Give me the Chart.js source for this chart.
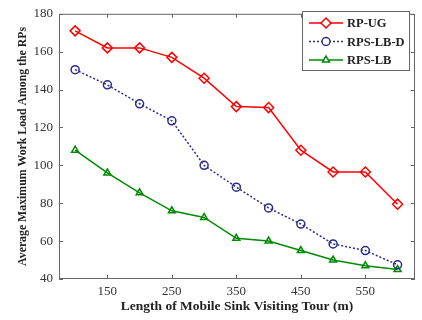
<!DOCTYPE html>
<html>
<head>
<meta charset="UTF-8">
<script src="https://cdn.jsdelivr.net/npm/chart.js"></script>
<style>
  html, body { margin: 0; padding: 0; background: #fff; }
  #wrap { width: 422px; height: 320px; }
</style>
</head>
<body>
<div id="wrap"><canvas id="chart" width="422" height="320"></canvas></div>
<script>
// data
const tourLength = [100, 150, 200, 250, 300, 350, 400, 450, 500, 550, 600];
const rpUG = [171, 162, 162, 157, 146, 131, 130.5, 108, 96.5, 96.5, 79.5];
const rpsLBD = [150.5, 142.5, 132.5, 123.5, 100, 88.5, 77.5, 69, 58.5, 55, 47.5];
const rpsLB = [108, 96, 85.5, 76, 72.5, 61.5, 60, 55, 50, 47, 45];
const xTicks = [150, 250, 350, 450, 550];
const yTicks = [40, 60, 80, 100, 120, 140, 160, 180];

const FONT = '"Liberation Serif", "DejaVu Serif", serif';

function pts(vals) {
  return tourLength.map((x, i) => ({ x: x, y: vals[i] }));
}

const series = [
  { label: 'RP-UG', data: pts(rpUG), color: '#ff0000', style: 'rectRot', dash: [] },
  { label: 'RPS-LB-D', data: pts(rpsLBD), color: '#2b2b8f', style: 'circle', dash: [2, 2] },
  { label: 'RPS-LB', data: pts(rpsLB), color: '#008a00', style: 'triangle', dash: [] }
];

// box + inward ticks, like matlab
const frame = {
  id: 'frame',
  afterDraw(chart) {
    const ctx = chart.ctx;
    const a = chart.chartArea;
    const xs = chart.scales.x, ys = chart.scales.y;
    ctx.save();
    ctx.strokeStyle = '#666';
    ctx.lineWidth = 1;
    ctx.strokeRect(a.left + 0.5, a.top + 0.5, a.right - a.left - 1, a.bottom - a.top - 1);
    ctx.beginPath();
    xTicks.forEach(v => {
      const px = Math.round(xs.getPixelForValue(v)) + 0.5;
      ctx.moveTo(px, a.bottom); ctx.lineTo(px, a.bottom - 4);
      ctx.moveTo(px, a.top); ctx.lineTo(px, a.top + 4);
    });
    yTicks.forEach(v => {
      const py = Math.round(ys.getPixelForValue(v)) + 0.5;
      ctx.moveTo(a.left, py); ctx.lineTo(a.left + 4, py);
      ctx.moveTo(a.right, py); ctx.lineTo(a.right - 4, py);
    });
    ctx.stroke();

    // legend box
    const lx = 302, ly = 11, lw = 107, lh = 59;
    ctx.fillStyle = '#fff';
    ctx.fillRect(lx, ly, lw, lh);
    ctx.strokeRect(lx + 0.5, ly + 0.5, lw, lh);
    ctx.font = 'bold 12.5px ' + FONT;
    ctx.textBaseline = 'middle';
    series.forEach((s, i) => {
      const y = ly + 12 + i * 18.5;
      ctx.strokeStyle = s.color;
      ctx.lineWidth = 1.5;
      ctx.setLineDash(s.dash);
      ctx.beginPath();
      ctx.moveTo(lx + 7, y); ctx.lineTo(lx + 41, y);
      ctx.stroke();
      ctx.setLineDash([]);
      ctx.fillStyle = '#fff';
      Chart.helpers.drawPoint(ctx, { pointStyle: s.style, radius: s.style === 'rectRot' ? 5 : 4, rotation: 0, borderWidth: 1.5 }, lx + 24, y);
      ctx.fillStyle = '#222';
      ctx.fillText(s.label, lx + 45, y + 1);
    });
    ctx.restore();
  }
};

new Chart(document.getElementById('chart'), {
  type: 'line',
  data: {
    datasets: series.map(s => ({
      label: s.label,
      data: s.data,
      borderColor: s.color,
      backgroundColor: 'rgba(0,0,0,0)',
      pointBorderColor: s.color,
      pointBackgroundColor: 'rgba(0,0,0,0)',
      borderWidth: 1.5,
      borderDash: s.dash,
      pointStyle: s.style,
      pointRadius: s.style === 'rectRot' ? 5 : 4,
      pointBorderWidth: 1.5,
      tension: 0
    }))
  },
  options: {
    responsive: false,
    animation: false,
    layout: { padding: { top: 5, right: 7, left: 0, bottom: 5 } },
    plugins: { legend: { display: false }, tooltip: { enabled: false } },
    scales: {
      x: {
        type: 'linear',
        min: 75,
        max: 627,
        afterBuildTicks(scale) { scale.ticks = xTicks.map(v => ({ value: v })); },
        grid: { display: false, drawTicks: false },
        border: { display: false },
        ticks: { color: '#333', font: { family: FONT, size: 13 }, padding: 5, maxRotation: 0 },
        title: { display: true, text: 'Length of Mobile Sink Visiting Tour (m)', color: '#222',
                 font: { family: FONT, size: 13.5, weight: 'bold' }, padding: { top: 0, bottom: 0 } },
        afterFit(scale) { scale.height = 36; }
      },
      y: {
        min: 40,
        max: 180,
        afterBuildTicks(scale) { scale.ticks = yTicks.map(v => ({ value: v })); },
        grid: { display: false, drawTicks: false },
        border: { display: false },
        ticks: { color: '#333', font: { family: FONT, size: 13 }, padding: 6 },
        title: { display: true, text: 'Average Maximum Work Load Among the RPs', color: '#222',
                 font: { family: FONT, size: 11.8, weight: 'bold' }, padding: { top: 16, bottom: 0 } },
        afterFit(scale) { scale.width = 59; }
      }
    }
  },
  plugins: [frame]
});
</script>
</body>
</html>
